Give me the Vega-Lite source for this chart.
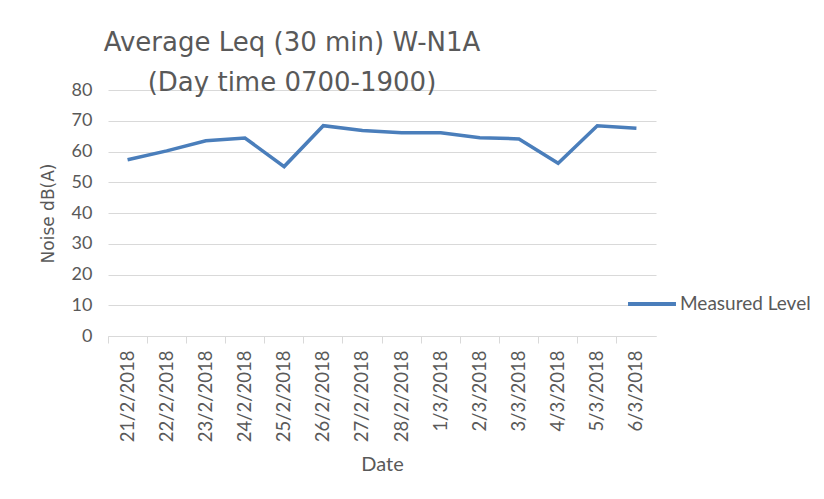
{
  "$schema": "https://vega.github.io/schema/vega-lite/v6.json",
  "autosize": {"type": "none"},
  "padding": {"left": 108, "top": 90, "right": 168, "bottom": 163},
  "width": 548,
  "height": 246,
  "background": "white",
  "title": {
    "text": ["Average Leq (30 min) W-N1A", "(Day time 0700-1900)"],
    "anchor": "middle",
    "align": "center",
    "dx": -90,
    "dy": 32,
    "offset": -4,
    "baseline": "alphabetic",
    "font": "DejaVu Sans",
    "fontSize": 26,
    "fontWeight": "normal",
    "color": "#595959",
    "lineHeight": 40
  },
  "data": {
    "values": [
      {"Date": "21/2/2018", "Level": 57.3, "Series": "Measured Level"},
      {"Date": "22/2/2018", "Level": 60.2, "Series": "Measured Level"},
      {"Date": "23/2/2018", "Level": 63.5, "Series": "Measured Level"},
      {"Date": "24/2/2018", "Level": 64.4, "Series": "Measured Level"},
      {"Date": "25/2/2018", "Level": 55.1, "Series": "Measured Level"},
      {"Date": "26/2/2018", "Level": 68.4, "Series": "Measured Level"},
      {"Date": "27/2/2018", "Level": 66.8, "Series": "Measured Level"},
      {"Date": "28/2/2018", "Level": 66.1, "Series": "Measured Level"},
      {"Date": "1/3/2018", "Level": 66.1, "Series": "Measured Level"},
      {"Date": "2/3/2018", "Level": 64.5, "Series": "Measured Level"},
      {"Date": "3/3/2018", "Level": 64.1, "Series": "Measured Level"},
      {"Date": "4/3/2018", "Level": 56.2, "Series": "Measured Level"},
      {"Date": "5/3/2018", "Level": 68.4, "Series": "Measured Level"},
      {"Date": "6/3/2018", "Level": 67.6, "Series": "Measured Level"}
    ]
  },
  "mark": {"type": "line", "strokeWidth": 3.5, "strokeJoin": "miter"},
  "encoding": {
    "x": {
      "field": "Date",
      "type": "nominal",
      "sort": null,
      "scale": {"type": "band", "paddingInner": 0, "paddingOuter": 0},
      "axis": {
        "title": "Date",
        "titleFont": "Lato",
        "titleFontSize": 20,
        "titleFontWeight": "normal",
        "titleColor": "#595959",
        "titlePadding": 13,
        "labelAngle": -90,
        "labelFont": "Lato",
        "labelFontSize": 18.5,
        "labelColor": "#595959",
        "labelPadding": 7,
        "bandPosition": 0,
        "tickSize": 7,
        "tickColor": "#d9d9d9",
        "domainColor": "#d9d9d9",
        "grid": false
      }
    },
    "y": {
      "field": "Level",
      "type": "quantitative",
      "scale": {"domain": [0, 80], "nice": false},
      "axis": {
        "title": "Noise dB(A)",
        "titleFont": "DejaVu Sans",
        "titleFontSize": 17,
        "titleFontWeight": "normal",
        "titleColor": "#595959",
        "titlePadding": 14,
        "values": [0, 10, 20, 30, 40, 50, 60, 70, 80],
        "labelFont": "Lato",
        "labelFontSize": 18,
        "labelColor": "#595959",
        "labelPadding": 16,
        "ticks": false,
        "domain": false,
        "grid": true,
        "gridColor": "#d9d9d9",
        "gridWidth": 1.2
      }
    },
    "color": {
      "field": "Series",
      "type": "nominal",
      "scale": {"range": ["#4a7ebb"]},
      "legend": {
        "title": null,
        "orient": "none",
        "legendX": 518,
        "legendY": 188,
        "symbolType": "stroke",
        "symbolSize": 2300,
        "symbolStrokeWidth": 4,
        "labelFont": "Lato",
        "labelFontSize": 19,
        "labelColor": "#595959",
        "labelOffset": 2
      }
    }
  },
  "config": {"view": {"stroke": null}}
}
